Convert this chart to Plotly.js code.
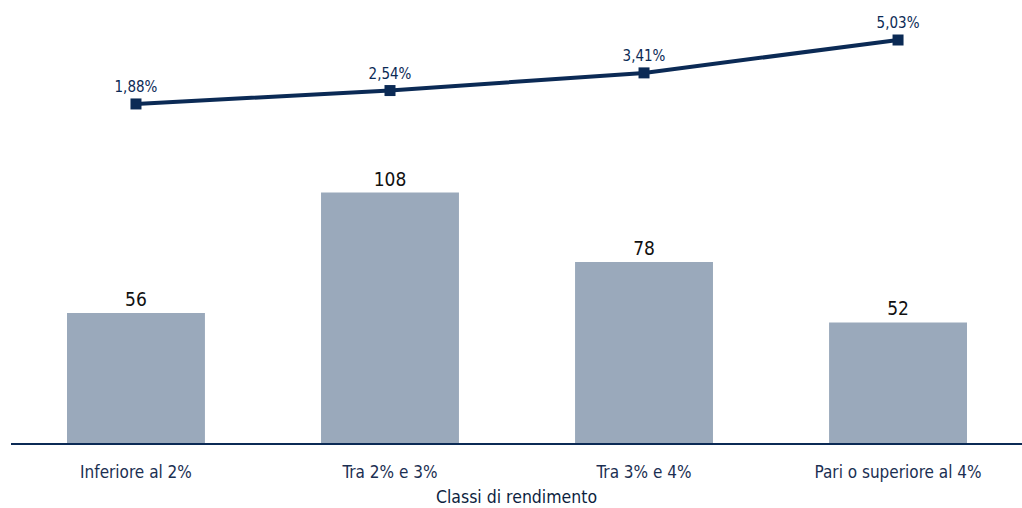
<!DOCTYPE html>
<html>
<head>
<meta charset="utf-8">
<script src="https://cdn.plot.ly/plotly-3.0.1.min.js"></script>
<style>html,body{margin:0;padding:0;background:#fff;}#chart{width:1022px;height:508px;}</style>
</head>
<body>
<div id="chart"></div>
<script>
const categories = ["Inferiore al 2%", "Tra 2% e 3%", "Tra 3% e 4%", "Pari o superiore al 4%"];
const barValues = [56, 108, 78, 52];
const lineValues = [1.88, 2.54, 3.41, 5.03];
const xTitle = "Classi di rendimento";

const FONT = '"DejaVu Sans Condensed", "Liberation Sans Narrow", sans-serif';
const NAVY = '#0b2a55';

const lineText = lineValues.map(v => v.toFixed(2).replace('.', ',') + '%');

const traces = [
  {
    type: 'bar',
    x: categories,
    y: barValues,
    text: barValues.map(String),
    textposition: 'outside',
    cliponaxis: false,
    textfont: {family: FONT, size: 19, color: '#111111'},
    marker: {color: '#9aa9bb'},
    width: 0.543,
    hoverinfo: 'none',
    yaxis: 'y'
  },
  {
    type: 'scatter',
    mode: 'lines+markers+text',
    x: categories,
    y: lineValues,
    text: lineText,
    textposition: 'top center',
    textfont: {family: FONT, size: 15, color: NAVY},
    line: {color: NAVY, width: 4},
    marker: {symbol: 'square', size: 11, color: NAVY},
    cliponaxis: false,
    hoverinfo: 'none',
    yaxis: 'y2'
  }
];

const layout = {
  width: 1022,
  height: 508,
  margin: {l: 11, r: 0, t: 0, b: 65},
  paper_bgcolor: '#ffffff',
  plot_bgcolor: '#ffffff',
  showlegend: false,
  font: {family: FONT, color: NAVY},
  xaxis: {
    type: 'category',
    range: [-0.492, 3.488],
    showline: true,
    linecolor: NAVY,
    linewidth: 1.5,
    ticks: 'outside',
    ticklen: 13,
    tickcolor: 'rgba(0,0,0,0)',
    showgrid: false,
    tickfont: {family: FONT, size: 17, color: '#1b2f52'},
    title: {text: xTitle, font: {family: FONT, size: 17.5, color: '#0d1f3f'}, standoff: 10}
  },
  yaxis: {
    range: [0, 191],
    visible: false,
    showgrid: false,
    zeroline: false
  },
  yaxis2: {
    overlaying: 'y',
    side: 'right',
    range: [-14.82, 7.0],
    visible: false,
    showgrid: false,
    zeroline: false
  }
};

Plotly.newPlot('chart', traces, layout, {staticPlot: true, displayModeBar: false});
</script>
</body>
</html>
